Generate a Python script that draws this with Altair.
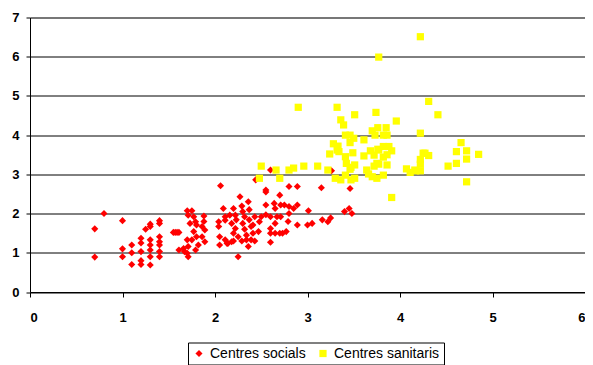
import altair as alt
import pandas as pd

# Centres socials (red diamonds)
social_x = [0.70, 0.70, 0.80, 1.00, 1.00, 1.00, 1.10, 1.10, 1.10, 1.20, 1.20, 1.20, 1.20, 1.20,
            1.25, 1.30, 1.30, 1.30, 1.30, 1.30, 1.30, 1.30, 1.40, 1.40, 1.40, 1.40, 1.40, 1.40, 1.40,
            1.55, 1.57, 1.59, 1.61, 1.61, 1.66, 1.67, 1.70, 1.71, 1.70, 1.71, 1.70, 1.75, 1.71, 1.77,
            1.79, 1.73, 1.80, 1.88, 1.88, 1.86, 1.89, 1.77, 1.80, 1.75, 1.86, 1.89, 1.82, 1.79,
            2.04, 2.04, 2.05, 2.05, 2.06, 2.09, 2.11, 2.11, 2.11, 2.13, 2.16, 2.18, 2.20, 2.20, 2.20,
            2.22, 2.23, 2.25, 2.25, 2.27, 2.29, 2.30, 2.32, 2.30, 2.32, 2.34, 2.36, 2.37, 2.37, 2.39,
            2.41, 2.43, 2.34, 2.29, 2.22, 2.18, 2.14, 2.36, 2.39, 2.41, 2.43, 2.48, 2.50, 2.47, 2.44,
            2.55, 2.55, 2.55, 2.55, 2.60, 2.60, 2.60, 2.60, 2.60, 2.64, 2.65, 2.65, 2.65, 2.70, 2.71,
            2.71, 2.67, 2.70, 2.73, 2.77, 2.75, 2.80, 2.80, 2.79, 2.80, 2.85, 2.89, 2.89, 2.89, 3.01,
            3.00, 3.05, 3.15, 3.16, 3.25, 3.22, 3.26, 3.40, 3.45, 3.48, 3.46]
social_y = [1.61, 0.89, 2.00, 1.82, 1.10, 0.90, 1.20, 1.00, 0.70, 1.37, 1.25, 1.03, 0.80, 0.70,
            1.60, 1.73, 1.67, 1.33, 1.20, 1.07, 0.90, 0.69, 1.82, 1.75, 1.41, 1.28, 1.20, 1.03, 0.90,
            1.52, 1.52, 1.52, 1.52, 1.07, 1.11, 1.03, 0.99, 0.90, 1.33, 1.16, 2.07, 2.07, 1.96, 1.92,
            1.79, 1.75, 1.71, 1.94, 1.80, 1.67, 1.58, 1.54, 1.41, 1.33, 1.41, 1.28, 1.20, 1.07,
            1.79, 1.67, 1.41, 1.20, 2.71, 2.13, 1.92, 1.83, 1.33, 1.24, 1.96, 1.75, 1.50, 1.30, 2.13,
            1.96, 1.84, 1.41, 0.90, 2.43, 2.19, 2.05, 1.92, 1.75, 1.60, 1.45, 2.30, 2.10, 1.84, 1.67,
            1.50, 1.30, 1.33, 1.30, 1.62, 1.28, 1.24, 1.16, 1.33, 1.71, 1.92, 1.79, 1.92, 1.54, 2.86,
            2.60, 2.55, 2.22, 1.97, 1.92, 1.62, 1.50, 1.27, 3.11, 2.26, 2.13, 1.75, 1.50, 2.47, 2.22,
            1.92, 1.92, 1.50, 1.50, 1.54, 2.22, 2.18, 2.00, 1.80, 2.69, 2.13, 2.69, 2.22, 1.71, 2.07,
            1.71, 1.75, 2.66, 1.84, 1.89, 1.79, 3.09, 2.05, 2.13, 2.00, 2.64]

# Centres sanitaris (yellow squares)
sanit_x = [2.50, 2.48, 2.66, 2.70, 2.80, 2.85, 2.90, 2.96, 3.11, 3.22, 3.24, 3.28, 3.32, 3.32,
           3.33, 3.36, 3.39, 3.41, 3.46, 3.46, 3.50, 3.51, 3.49, 3.41, 3.42, 3.47, 3.51, 3.41,
           3.30, 3.36, 3.47, 3.51, 3.46, 3.61, 3.61, 3.64, 3.66, 3.68, 3.70, 3.70, 3.72, 3.72,
           3.73, 3.74, 3.75, 3.75, 3.76, 3.76, 3.77, 3.77, 3.77, 3.82, 3.82, 3.82, 3.82, 3.86,
           3.85, 3.86, 3.86, 3.88, 3.91, 3.91, 3.96, 4.07, 4.11, 4.16, 4.17, 4.22, 4.22, 4.22,
           4.22, 4.22, 4.25, 4.27, 4.31, 4.31, 4.41, 4.52, 4.61, 4.61, 4.66, 4.72, 4.72, 4.72,
           4.85, 3.34]
sanit_y = [3.21, 2.90, 3.11, 2.90, 3.11, 3.16, 4.71, 3.21, 3.21, 3.11, 3.52, 3.78, 3.62, 4.71,
           3.72, 4.39, 4.26, 4.00, 4.00, 3.81, 3.92, 4.52, 3.55, 3.45, 3.28, 3.18, 3.24, 2.98,
           2.90, 2.86, 2.86, 2.90, 3.13, 3.88, 3.47, 3.11, 3.01, 3.60, 4.11, 2.94, 3.49, 3.21,
           4.00, 4.58, 3.28, 2.90, 4.19, 3.64, 5.99, 3.62, 3.26, 4.00, 3.71, 3.44, 2.98, 4.00,
           4.19, 3.50, 3.24, 3.71, 3.60, 2.41, 4.36, 3.14, 3.05, 3.11, 3.09, 6.51, 4.05, 3.38,
           3.26, 3.09, 3.54, 3.54, 3.48, 4.86, 4.52, 3.21, 3.28, 3.58, 3.81, 3.60, 3.39, 2.81,
           3.51, 3.58]

series_names = ["Centres socials", "Centres sanitaris"]
series_colors = ["#FF0000", "#FFFF00"]
series_shapes = ["diamond", "square"]
series_sizes = [50, 52]

x_ticks = [0, 1, 2, 3, 4, 5, 6]
y_ticks = [0, 1, 2, 3, 4, 5, 6, 7]

df = pd.concat([
    pd.DataFrame({"x": social_x, "y": social_y, "series": series_names[0], "order": 0}),
    pd.DataFrame({"x": sanit_x, "y": sanit_y, "series": series_names[1], "order": 1}),
], ignore_index=True)

FONT = "Liberation Sans"

chart = alt.Chart(df).mark_point(filled=True, opacity=1, strokeWidth=0).encode(
    x=alt.X("x:Q", scale=alt.Scale(domain=[0, 6], nice=False, zero=False),
            axis=alt.Axis(values=x_ticks, title=None, grid=False, format="d", labelFlush=True,
                          domainColor="black", domainWidth=1, tickColor="black", tickSize=5,
                          labelPadding=14, labelFont=FONT, labelFontWeight="bold",
                          labelFontSize=13, labelColor="black")),
    y=alt.Y("y:Q", scale=alt.Scale(domain=[0, 7], nice=False, zero=False),
            axis=alt.Axis(values=y_ticks, title=None, grid=True, gridColor="black", gridOpacity=1,
                          gridWidth=1, format="d", labelFlush=False,
                          domainColor="black", domainWidth=1, tickColor="black", tickSize=4,
                          labelPadding=7, labelFont=FONT, labelFontWeight="bold",
                          labelFontSize=13, labelColor="black")),
    color=alt.Color("series:N", scale=alt.Scale(domain=series_names, range=series_colors),
                    legend=alt.Legend(title=None, orient="none", legendX=158, legendY=325,
                                      direction="horizontal", strokeColor="black", padding=4,
                                      labelFont=FONT, labelFontSize=14, labelColor="black",
                                      labelOffset=4, columnPadding=10, fillColor="white")),
    shape=alt.Shape("series:N", scale=alt.Scale(domain=series_names, range=series_shapes)),
    size=alt.Size("series:N", scale=alt.Scale(domain=series_names, range=series_sizes)),
    order=alt.Order("order:Q"),
).properties(
    width=555, height=274.5,
    autosize=alt.AutoSizeParams(type="none"),
    padding={"left": 22, "top": 9.5, "right": 0, "bottom": 73},
).configure_view(stroke=None).configure(background="white")

chart.save("out.html", embed_options={"renderer": "svg", "actions": False})
